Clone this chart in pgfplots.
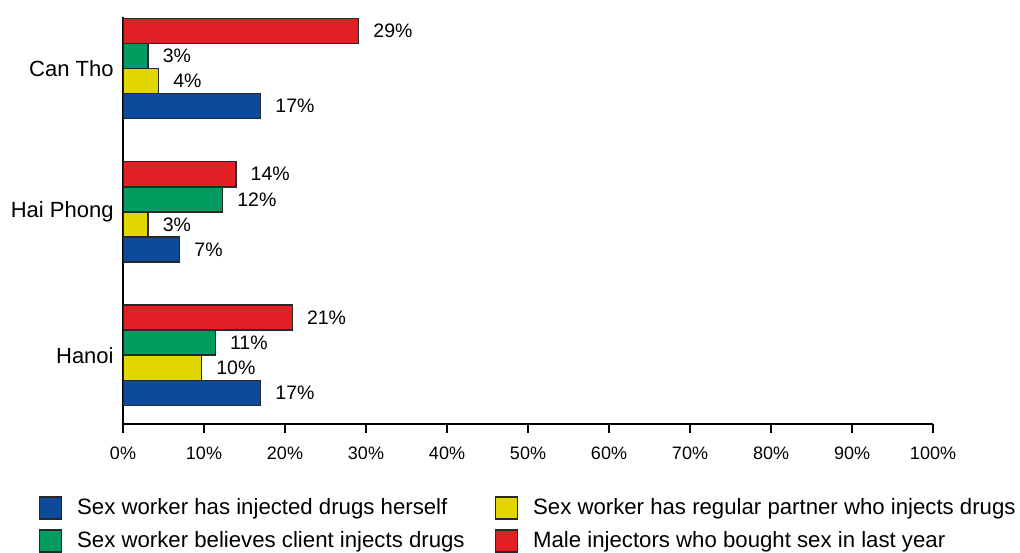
\documentclass[border=0pt]{standalone}
\usepackage{fontspec}
\setmainfont{Liberation Sans}
\usepackage{pgfplots}
\pgfplotsset{compat=1.18}
\definecolor{cred}{RGB}{227,30,36}
\definecolor{cgreen}{RGB}{0,155,95}
\definecolor{cyellow}{RGB}{226,214,0}
\definecolor{cblue}{RGB}{14,74,155}
\definecolor{cedge}{RGB}{40,40,40}
\begin{document}
\begin{tikzpicture}
\useasboundingbox (-61.5pt,-64pt) rectangle (448.5pt,212pt);
\begin{axis}[
  scale only axis,
  width=405pt, height=203.5pt,
  at={(0,0)}, anchor=south west,
  xbar,
  bar width=0.175,
  xmin=0, xmax=100,
  ymin=-0.48, ymax=2.36,
  axis x line*=bottom,
  axis y line*=left,
  axis line style={line width=0.75pt, draw=black},
  xtick={0,10,...,100},
  xticklabel={\pgfmathprintnumber{\tick}\%},
  xticklabel style={font=\fontsize{9}{10}\selectfont, yshift=-3.5pt},
  /pgf/number format/assume math mode=true,
  tick align=outside,
  major tick length=4.5pt,
  xtick style={line width=0.75pt, draw=black},
  ytick={0,1,2},
  yticklabels={Hanoi,Hai Phong,Can Tho},
  ytick style={draw=none},
  yticklabel style={font=\fontsize{11}{12}\selectfont, inner sep=0pt, xshift=0pt},
  every axis plot/.append style={draw=cedge, line width=0.75pt},
  nodes near coords={\pgfmathprintnumber[fixed,precision=0]{\pgfplotspointmeta}\%},
  point meta=x,
  every node near coord/.append style={font=\fontsize{9.75}{11}\selectfont, anchor=west, inner sep=0pt, xshift=7pt, text=black},
  legend columns=2,
  legend cell align=left,
  legend style={at={(-0.112,-0.162)}, anchor=north west, draw=none, fill=none,
    font=\fontsize{11.1}{13}\selectfont, row sep=3pt,
    /tikz/every even column/.append style={column sep=13pt}},
  legend image code/.code={\draw[#1,draw=cedge,line width=0.75pt] (0pt,-5.5pt) rectangle (11pt,5.5pt); \path (16.5pt,0pt);},
]
\addplot[fill=cblue, bar shift=-0.2625] coordinates {(17.0,0) (7.0,1) (17.0,2)};
\addlegendentry{Sex worker has injected drugs herself}
\addplot[fill=cyellow, bar shift=-0.0875] coordinates {(9.7,0) (3.1,1) (4.4,2)};
\addlegendentry{Sex worker has regular partner who injects drugs}
\addplot[fill=cgreen, bar shift=0.0875] coordinates {(11.4,0) (12.3,1) (3.1,2)};
\addlegendentry{Sex worker believes client injects drugs}
\addplot[fill=cred, bar shift=0.2625] coordinates {(20.9,0) (13.95,1) (29.1,2)};
\addlegendentry{Male injectors who bought sex in last year}
\end{axis}
\end{tikzpicture}
\end{document}
